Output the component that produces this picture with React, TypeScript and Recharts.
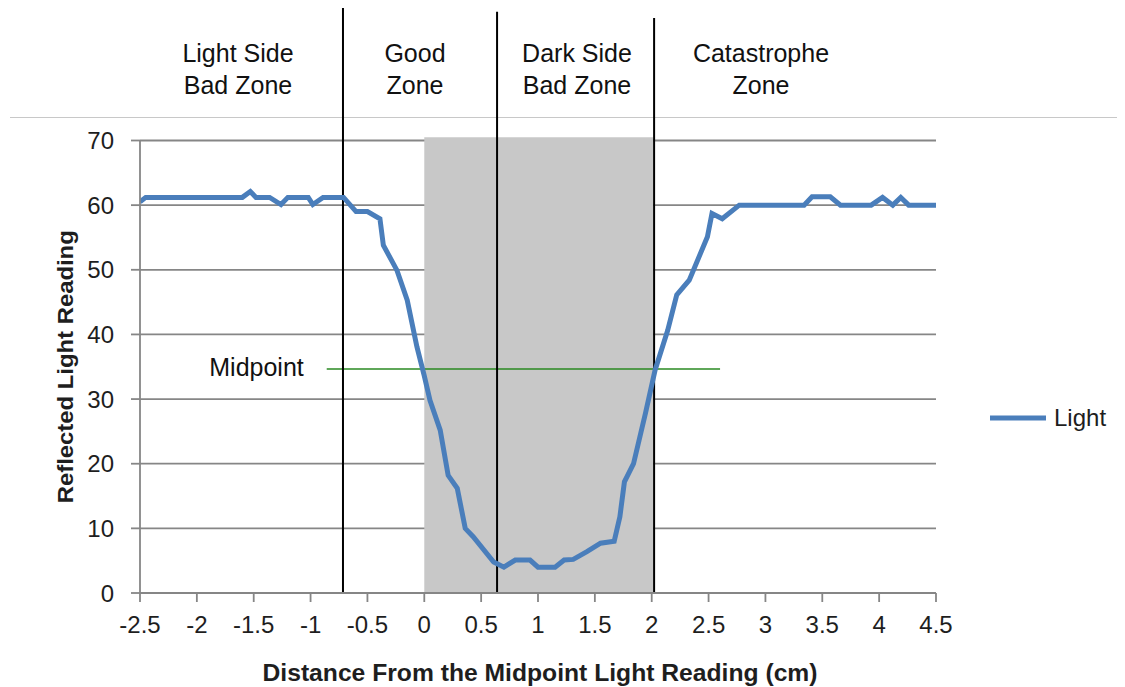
import React from "react";
import {
  LineChart,
  Line,
  XAxis,
  YAxis,
  CartesianGrid,
  ReferenceArea,
  ReferenceLine,
  Label,
} from "recharts";

// ---- data ----
const distances = [
  -2.5, -2.45, -1.6, -1.53, -1.48, -1.36, -1.26, -1.2, -1.02, -0.98, -0.89, -0.71,
  -0.6, -0.5, -0.39, -0.36, -0.24, -0.15, -0.065, 0.0, 0.05, 0.14, 0.21, 0.29, 0.36,
  0.43, 0.61, 0.7, 0.8, 0.93, 1.0, 1.15, 1.23, 1.31, 1.43, 1.55, 1.67, 1.72, 1.76,
  1.84, 1.945, 2.03, 2.14, 2.22, 2.33, 2.49, 2.53, 2.62, 2.77, 3.34, 3.41, 3.57,
  3.66, 3.93, 4.03, 4.12, 4.19, 4.26, 4.5,
];
const lightReadings = [
  60.5, 61.2, 61.2, 62.1, 61.2, 61.2, 60.1, 61.2, 61.2, 60.1, 61.2, 61.2,
  59, 59, 57.9, 53.8, 49.9, 45.3, 38.1, 33.6, 29.8, 25.2, 18.2, 16.2, 10.0,
  8.7, 4.8, 4.0, 5.1, 5.1, 4.0, 4.0, 5.1, 5.2, 6.4, 7.7, 8.0, 11.8, 17.2,
  20.0, 27.8, 34.5, 40.6, 46.1, 48.4, 55.1, 58.7, 57.9, 60.0, 60.0, 61.3, 61.3,
  60.0, 60.0, 61.2, 60.0, 61.2, 60.0, 60.0,
];
const xTicks = [-2.5, -2, -1.5, -1, -0.5, 0, 0.5, 1, 1.5, 2, 2.5, 3, 3.5, 4, 4.5];
const yTicks = [0, 10, 20, 30, 40, 50, 60, 70];

const seriesName = "Light";
const zoneLabels = [
  ["Light Side", "Bad Zone"],
  ["Good", "Zone"],
  ["Dark Side", "Bad Zone"],
  ["Catastrophe", "Zone"],
];
const zoneCenters = [238, 415, 577, 761];
const zoneBoundaries = [-0.715, 0.64, 2.021];
const zoneBoundaryTops = [90.5, 89.9, 88.95];
const shadedRange = [0, 2.015];
const midpointValue = 34.65;
const midpointRange = [-0.858, 2.601];

const data = distances.map((x, i) => ({ x, [seriesName]: lightReadings[i] }));

const LINE_COLOR = "#4a7ebb";
const SANS = "'Liberation Sans', Arial, sans-serif";

export default function App() {
  return (
    <div style={{ position: "relative", width: 1117, height: 679, fontFamily: SANS }}>
      {/* header separator */}
      <div
        style={{
          position: "absolute",
          left: 2,
          top: 108.5,
          width: 1115,
          height: 1.5,
          background: "#c8c8c8",
        }}
      />
      {zoneLabels.map((lines, i) => (
        <div
          key={i}
          style={{
            position: "absolute",
            left: zoneCenters[i] - 8 - 100,
            top: 29,
            width: 200,
            textAlign: "center",
            fontSize: 25,
            lineHeight: "32px",
            color: "#111",
          }}
        >
          {lines[0]}
          <br />
          {lines[1]}
        </div>
      ))}
      <div
        style={{
          position: "absolute",
          left: 256.5 - 8 - 100,
          top: 367 - 8 - 16,
          width: 200,
          textAlign: "center",
          fontSize: 25,
          lineHeight: "32px",
          color: "#111",
        }}
      >
        Midpoint
      </div>
      {/* legend */}
      <div
        style={{
          position: "absolute",
          left: 990 - 8,
          top: 418 - 8 - 16,
          height: 32,
          display: "flex",
          alignItems: "center",
        }}
      >
        <svg width={56} height={10}>
          <line x1={0} y1={5} x2={56} y2={5} stroke={LINE_COLOR} strokeWidth={5} />
        </svg>
        <span style={{ marginLeft: 8, fontSize: 24, color: "#1e1e1e" }}>{seriesName}</span>
      </div>
      <LineChart
        width={1117}
        height={679}
        data={data}
        margin={{ top: 132.5, right: 189, bottom: 0, left: 0 }}
        style={{ position: "absolute", left: 0, top: 0 }}
      >
        <ReferenceArea
          x1={shadedRange[0]}
          x2={shadedRange[1]}
          y1={0}
          y2={70.5}
          fill="#c8c8c8"
          fillOpacity={1}
          stroke="none"
          ifOverflow="visible"
        />
        <CartesianGrid vertical={false} stroke="#868686" strokeWidth={1.8} />
        <XAxis
          type="number"
          dataKey="x"
          domain={[-2.5, 4.5]}
          ticks={xTicks}
          interval={0}
          allowDataOverflow
          height={94}
          stroke="#868686"
          strokeWidth={1.8}
          tickSize={9}
          tickMargin={14}
          tick={{ fill: "#1e1e1e", fontSize: 24, fontFamily: SANS }}
          tickFormatter={(v) => String(v)}
        >
          <Label
            content={(props: any) => {
              const vb = props.viewBox;
              return (
                <text
                  x={vb.x + vb.width / 2 + 2}
                  y={665}
                  textAnchor="middle"
                  dominantBaseline="central"
                  fontFamily={SANS}
                  fontWeight="bold"
                  fontSize={23}
                  fill="#1e1e1e"
                  textLength={555}
                  lengthAdjust="spacingAndGlyphs"
                >
                  Distance From the Midpoint Light Reading (cm)
                </text>
              );
            }}
          />
        </XAxis>
        <YAxis
          type="number"
          domain={[0, 70]}
          ticks={yTicks}
          interval={0}
          width={132}
          stroke="#868686"
          strokeWidth={1.8}
          tickSize={9}
          tickMargin={17}
          tick={{ fill: "#1e1e1e", fontSize: 24, fontFamily: SANS }}
        >
          <Label
            content={(props: any) => {
              const vb = props.viewBox;
              const cy = vb.y + vb.height / 2;
              return (
                <text
                  x={57}
                  y={cy}
                  transform={`rotate(-90, 57, ${cy})`}
                  textAnchor="middle"
                  dominantBaseline="central"
                  fontFamily={SANS}
                  fontWeight="bold"
                  fontSize={22}
                  fill="#1e1e1e"
                  textLength={273}
                  lengthAdjust="spacingAndGlyphs"
                >
                  Reflected Light Reading
                </text>
              );
            }}
          />
        </YAxis>
        <ReferenceLine
          segment={[
            { x: midpointRange[0], y: midpointValue },
            { x: midpointRange[1], y: midpointValue },
          ]}
          stroke="#2a8a22"
          strokeWidth={1.5}
          ifOverflow="visible"
        />
        {zoneBoundaries.map((b, i) => (
          <ReferenceLine
            key={i}
            segment={[
              { x: b, y: 0 },
              { x: b, y: zoneBoundaryTops[i] },
            ]}
            stroke="#000"
            strokeWidth={2}
            ifOverflow="visible"
          />
        ))}
        <Line
          type="linear"
          dataKey={seriesName}
          stroke={LINE_COLOR}
          strokeWidth={5}
          dot={false}
          activeDot={false}
          isAnimationActive={false}
        />
      </LineChart>
    </div>
  );
}
